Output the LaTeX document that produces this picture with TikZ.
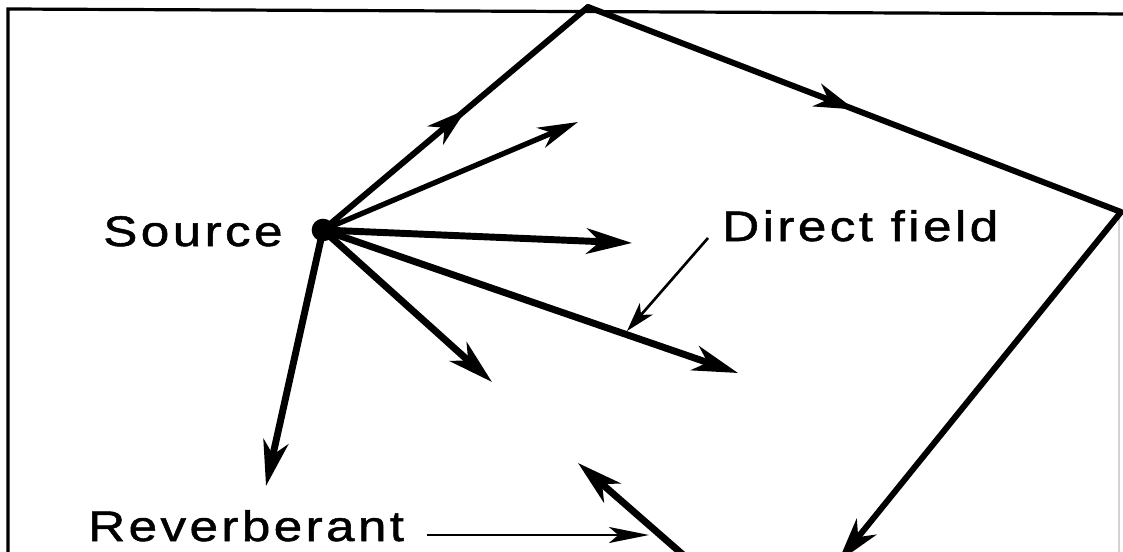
\documentclass[tikz,border=0pt]{standalone}
\usepackage{fontspec}
\newfontfamily\lblfont[LetterSpace=8,FakeStretch=1.2,FakeBold=1.2]{Liberation Sans}
\usetikzlibrary{arrows.meta,decorations.markings}

\begin{document}
\begin{tikzpicture}[x=0.75pt,y=-0.75pt,
  lbl/.style={font=\lblfont\fontsize{32pt}{38pt}\selectfont, inner sep=0pt},
  ray/.style={line width=5.2pt, -{Stealth[length=34pt,width=19pt,inset=10pt]}},
  thinray/.style={line width=4pt, -{Stealth[length=30pt,width=16pt,inset=9pt]}},
  leg/.style={line width=4.5pt},
  midarrow/.style={postaction={decorate},
    decoration={markings, mark=at position #1 with {\arrow{Stealth[length=30pt,width=18pt,inset=9pt]}}}},
  pointer/.style={line width=2pt, -{Stealth[length=22pt,width=13pt,inset=6pt]}},
  wall/.style={line width=2.4pt},
]
\useasboundingbox (0,0) rectangle (1123,552);
\clip (0,0) rectangle (1123,552);
\fill[white] (0,0) rectangle (1123,552);

% room walls
\coordinate (wtl) at (8,9);
\coordinate (wtr) at (1130,14);
\coordinate (wbl) at (8,560);
\draw[wall] (wbl) -- (wtl) -- (wtr);
\coordinate (wrt) at (1119,215);
\coordinate (wrb) at (1119,560);
\draw[gray!35, line width=1pt] (wrt) -- (wrb);

% source
\node[circle, fill=black, inner sep=0pt, minimum size=17pt] (src) at (323,230) {};
\node[lbl, anchor=base west] (srcl) at (103,246) {Source};

% direct rays
\coordinate (d1) at (578,122);
\coordinate (d2) at (632,243);
\coordinate (d3) at (738,373);
\coordinate (d4) at (492,382);
\coordinate (d5) at (266,486);
\draw[thinray] (src.center) -- (d1);
\draw[ray] (src.center) -- (d2);
\draw[ray] (src.center) -- (d3);
\draw[ray] (src.center) -- (d4);
\draw[ray] (src.center) -- (d5);

% reflected path
\coordinate (tv) at (588,7);
\coordinate (rv) at (1121,212);
\coordinate (bv) at (838,562);
\draw[leg, line cap=round, midarrow=0.54] (src.center) -- (tv);
\draw[leg, line cap=round, midarrow=0.5] (tv) -- (rv);
\draw[ray, line width=4.5pt] (rv) -- (bv);

% reverberant ray coming back
\coordinate (rs) at (705,574);
\coordinate (re) at (578,463);
\draw[ray] (rs) -- (re);

% labels with pointers
\node[lbl, anchor=base west] (dfl) at (722,241) {Direct field};
\coordinate (dfs) at (708,238);
\coordinate (dfe) at (627,331);
\draw[pointer] (dfs) -- (dfe);

\node[lbl, anchor=base west] (rvl) at (88,541) {Reverberant};
\coordinate (rvs) at (427,535);
\coordinate (rve) at (649,535);
\draw[pointer, -{Stealth[length=30pt,width=12pt,inset=7pt]}] (rvs) -- (rve);
\end{tikzpicture}
\end{document}
